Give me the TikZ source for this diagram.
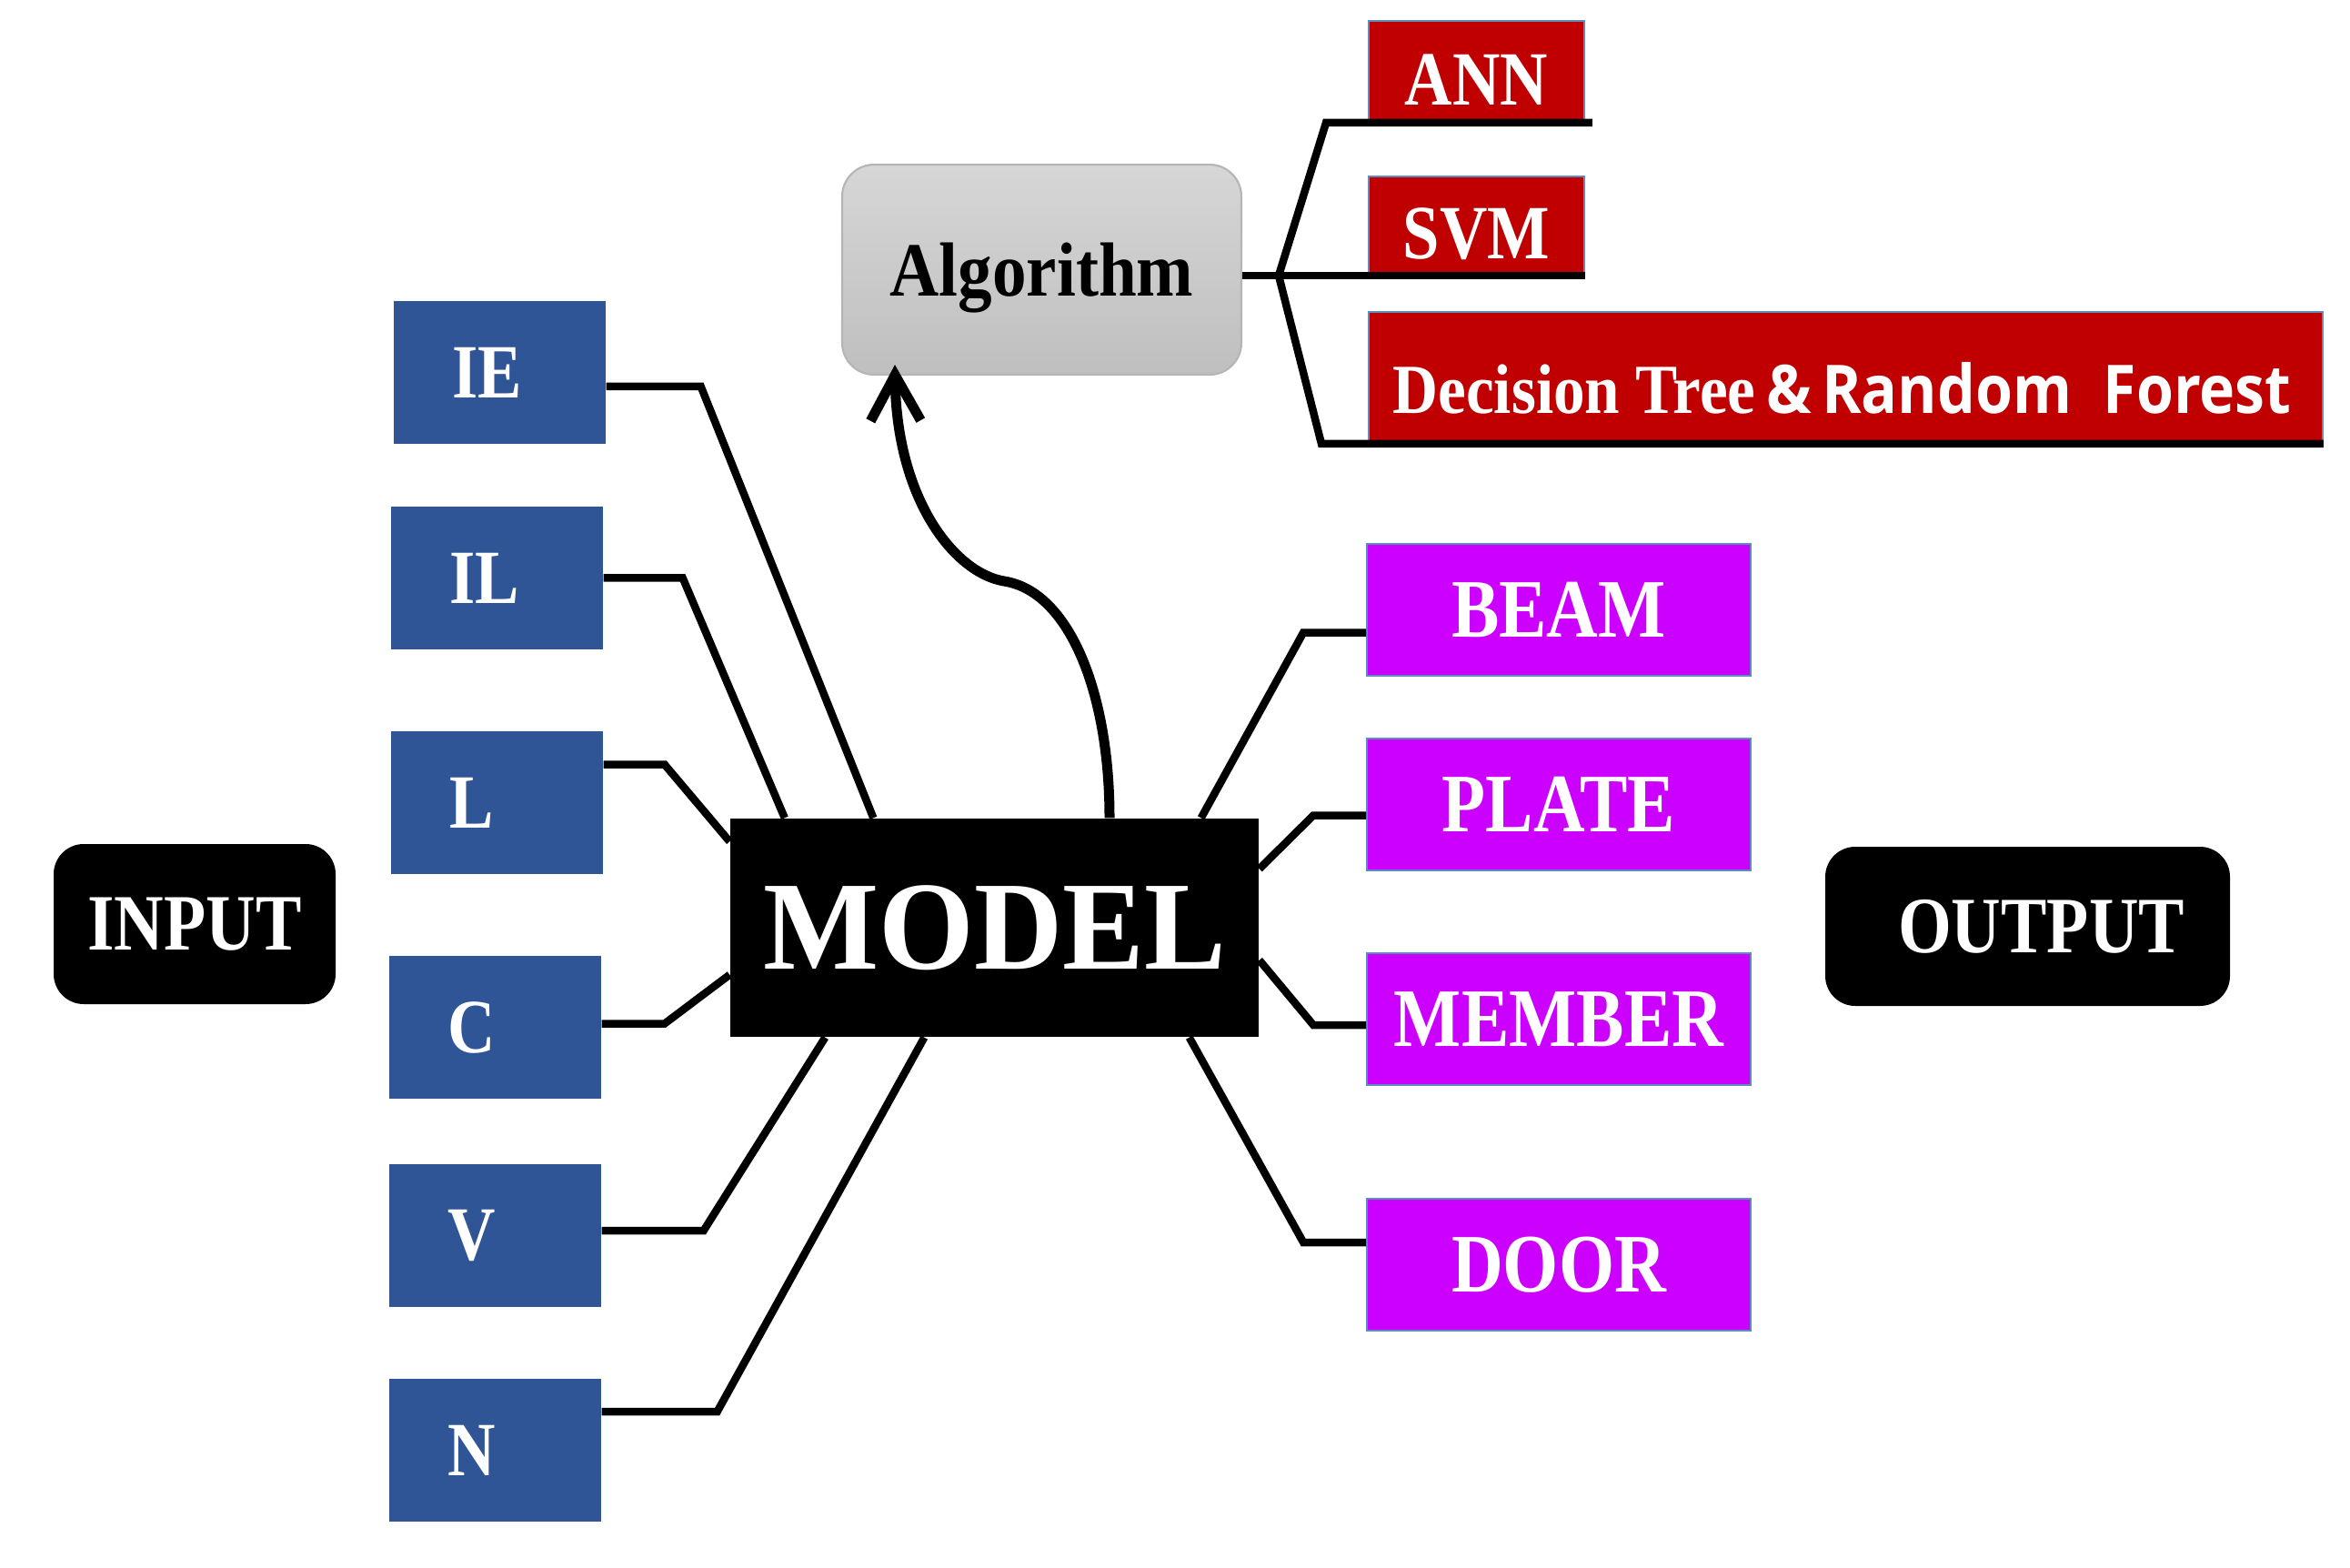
\documentclass[tikz,border=0pt]{standalone}
\usepackage{fontspec}
\setmainfont{Liberation Serif}
\newfontfamily\dtsans{Open Sans}
\usetikzlibrary{arrows.meta}
\definecolor{boxblue}{HTML}{2F5597}
\definecolor{boxpurple}{HTML}{CC00FF}
\definecolor{boxred}{HTML}{C00000}
\definecolor{edgeblue}{HTML}{5B8DC0}
\definecolor{algtop}{HTML}{D6D6D6}
\definecolor{algbot}{HTML}{BFBFBF}
\definecolor{algedge}{HTML}{B5B5B5}
\newcommand{\sq}[1]{\scalebox{0.86}[1]{#1}}
\begin{document}
\begin{tikzpicture}[
  inbox/.style={fill=boxblue, minimum height=1.57cm, inner ysep=0pt,
    inner xsep=0.64cm, text width=1.05cm, align=left, text=white,
    font=\bfseries\fontsize{24pt}{28pt}\selectfont},
  outbox/.style={fill=boxpurple, draw=edgeblue, line width=0.5pt,
    minimum width=4.22cm, minimum height=1.45cm, inner sep=0pt, text=white,
    font=\bfseries\fontsize{26pt}{30pt}\selectfont},
  algbox/.style={fill=boxred, draw=edgeblue, line width=0.5pt, inner sep=0pt,
    text=white, text depth=0pt},
  ioterm/.style={fill=black, rounded corners=0.33cm, inner sep=0pt, text=white,
    font=\bfseries\fontsize{25pt}{29pt}\selectfont},
  conn/.style={line width=0.085cm, black},
  arr/.style={line width=0.11cm, black, -{Straight Barb[length=0.5cm, width=0.55cm]}},
]
\useasboundingbox (0,0) rectangle (25.84,-17.24);

% input side
\node[ioterm, minimum width=3.10cm, minimum height=1.76cm] (INPUT) at (2.14,-10.16) {\sq{INPUT}};
\node[inbox] (IE) at (5.495,-4.095) {\sq{IE}};
\node[inbox] (IL) at (5.465,-6.355) {\sq{IL}};
\node[inbox] (L)  at (5.465,-8.825) {\sq{L}};
\node[inbox] (C)  at (5.445,-11.295) {\sq{C}};
\node[inbox] (V)  at (5.445,-13.585) {\sq{V}};
\node[inbox] (N)  at (5.445,-15.945) {\sq{N}};

% model
\node[fill=black, minimum width=5.81cm, minimum height=2.40cm, inner sep=0pt,
  text=white, font=\bfseries\fontsize{39.5pt}{44pt}\selectfont] (MODEL) at (10.935,-10.20)
  {\scalebox{0.97}[1]{MODEL}};

% output side
\node[outbox] (BEAM)   at (17.14,-6.705)  {\sq{BEAM}};
\node[outbox] (PLATE)  at (17.14,-8.845)  {\sq{PLATE}};
\node[outbox] (MEMBER) at (17.14,-11.205) {\sq{MEMBER}};
\node[outbox] (DOOR)   at (17.14,-13.905) {\sq{DOOR}};
\node[ioterm, minimum width=4.45cm, minimum height=1.75cm] (OUTPUT) at (22.295,-10.185)
  {\hspace*{0.3cm}\sq{OUTPUT}};

% algorithm
\node[top color=algtop, bottom color=algbot, draw=algedge, line width=0.6pt,
  rounded corners=0.35cm, minimum width=4.39cm, minimum height=2.31cm, inner sep=0pt,
  text depth=0pt, font=\bfseries\fontsize{24pt}{28pt}\selectfont] (alg) at (11.455,-2.965)
  {\scalebox{0.89}[1]{Algorithm}};
\node[algbox, minimum width=2.37cm, minimum height=1.09cm, text height=0.76cm,
  font=\bfseries\fontsize{24pt}{28pt}\selectfont] (ANN) at (16.235,-0.775) {\sq{ANN}};
\node[algbox, minimum width=2.37cm, minimum height=1.06cm, text height=0.76cm,
  font=\bfseries\fontsize{24pt}{28pt}\selectfont] (SVM) at (16.235,-2.47) {\sq{SVM}};
\node[algbox, minimum width=10.49cm, minimum height=1.43cm, text height=0.80cm] (DT) at (20.295,-4.145)
  {{\bfseries\fontsize{22pt}{26pt}\selectfont\scalebox{0.895}[1]{Decision Tree}}\hspace{0.12cm}{\dtsans\bfseries\fontsize{21pt}{25pt}\selectfont\scalebox{0.897}[1]{\&\,Random\ \ Forest}}\hspace*{0.08cm}};

% input connectors
\draw[conn] ([yshift=-0.155cm]IE.east) -- ++(1.04,0) -- ([xshift=1.58cm]MODEL.north west);
\draw[conn] (IL.east) -- ++(0.87,0) -- ([xshift=0.605cm]MODEL.north west);
\draw[conn] ([yshift=0.42cm]L.east) -- ++(0.67,0) -- ([yshift=-0.26cm]MODEL.north west);
\draw[conn] ([yshift=0.04cm]C.east) -- ++(0.69,0) -- ([yshift=0.69cm]MODEL.south west);
\draw[conn] ([yshift=0.055cm]V.east) -- ++(1.12,0) -- ([xshift=1.05cm]MODEL.south west);
\draw[conn] ([yshift=0.425cm]N.east) -- ++(1.27,0) -- ([xshift=2.14cm]MODEL.south west);

% output connectors
\draw[conn] ([yshift=-0.25cm]BEAM.west) -- ++(-0.69,0) -- ([xshift=-0.64cm]MODEL.north east);
\draw[conn] ([yshift=-0.12cm]PLATE.west) -- ++(-0.58,0) -- ([yshift=-0.56cm]MODEL.north east);
\draw[conn] ([yshift=-0.065cm]MEMBER.west) -- ++(-0.58,0) -- ([yshift=0.85cm]MODEL.south east);
\draw[conn] ([yshift=0.245cm]DOOR.west) -- ++(-0.69,0) -- ([xshift=-0.77cm]MODEL.south east);

% model to algorithm
\coordinate (tip) at ([xshift=-1.615cm, yshift=0.12cm]alg.south);
\draw[arr] ([xshift=1.265cm]MODEL.north) .. controls (12.20,-7.6) and (11.75,-6.5) .. (11.04,-6.39)
  .. controls (10.5,-6.3) and (9.86,-5.5) .. (tip);

% algorithm bracket
\coordinate (J) at (14.06,-3.03);
\coordinate (Jt) at (14.58,-1.35);
\coordinate (Jb) at (14.53,-4.88);
\draw[conn] (alg.east |- J) -- (J) -- (J -| SVM.east);
\draw[conn] (J) -- (Jt) -- ([xshift=0.08cm]Jt -| ANN.east);
\draw[conn] (J) -- (Jb) -- (Jb -| DT.east);
\end{tikzpicture}
\end{document}
